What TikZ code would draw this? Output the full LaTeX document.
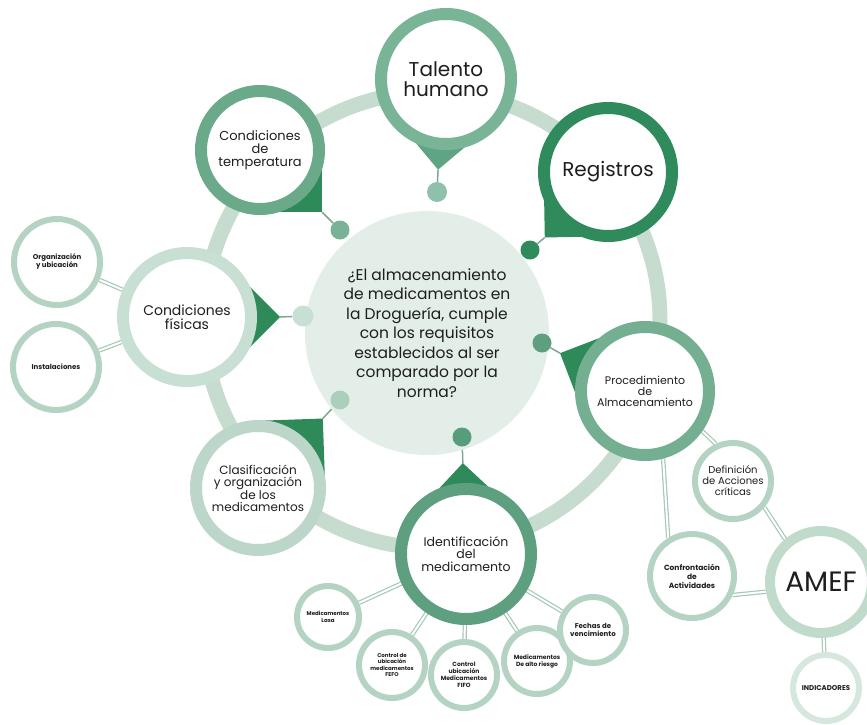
\documentclass[tikz,border=0pt]{standalone}
\usepackage{fontspec}
\setmainfont{Poppins}
\usetikzlibrary{backgrounds}

\definecolor{bigringc}{HTML}{C6DCCF}
\definecolor{qfill}{HTML}{E3EEE8}
\definecolor{talc}{HTML}{79B497}
\definecolor{talt}{HTML}{5FA584}
\definecolor{regc}{HTML}{2F8A5C}
\definecolor{tempc}{HTML}{6AA98A}
\definecolor{fisc}{HTML}{C8DFD3}
\definecolor{clasc}{HTML}{BCD7C9}
\definecolor{idec}{HTML}{5E9F80}
\definecolor{procc}{HTML}{74AF92}
\definecolor{tailc}{HTML}{2E8A58}
\definecolor{leafc}{HTML}{B4D3C3}
\definecolor{indc}{HTML}{D6E7DE}
\definecolor{amefc}{HTML}{C0DACC}
\definecolor{linkc}{HTML}{A5C9B6}
\definecolor{stemc}{HTML}{7FA794}
\definecolor{txt}{HTML}{1E1E1E}

\begin{document}
\begin{tikzpicture}[x=1pt,y=-1pt,
    bubble/.style={shape=circle,fill=white,line width=12pt,align=center,text=txt,inner sep=0pt},
    leaf/.style={shape=circle,fill=white,draw=leafc,line width=6pt,align=center,text=txt,inner sep=0pt},
    dot/.style={shape=circle,inner sep=0pt,minimum size=19pt},
    link/.style={draw=linkc,double=white,double distance=2pt,line width=1.2pt},
    stem/.style={draw=stemc,line width=1.5pt}]
        \useasboundingbox (0,0) rectangle (867,725);
        % pregunta central
        \node[shape=circle,fill=qfill,minimum size=244pt,align=center,text=txt,font=\fontsize{15.5}{19.5}\selectfont](q)at(427,333){¿El almacenamiento\\de medicamentos en\\la Droguería, cumple\\con los requisitos\\establecidos al ser\\comparado por la\\norma?};
        % burbujas
        \node[bubble,draw=talc,minimum size=130pt,font=\fontsize{20}{20}\selectfont](tal)at(446,79){Talento\\humano};
        \node[bubble,draw=regc,minimum size=128pt,font=\fontsize{20}{20}\selectfont](reg)at(608,172){Registros};
        \node[bubble,draw=tempc,minimum size=118pt,font=\fontsize{13}{13}\selectfont](temp)at(260,150){Condiciones\\de\\temperatura};
        \node[bubble,draw=fisc,minimum size=128pt,font=\fontsize{14}{14}\selectfont](fis)at(187,317){Condiciones\\físicas};
        \node[bubble,draw=clasc,minimum size=124pt,font=\fontsize{12}{12}\selectfont](clas)at(258,488){Clasificación\\y organización\\de los\\medicamentos};
        \node[bubble,draw=idec,minimum size=130pt,font=\fontsize{12.5}{12.5}\selectfont](ide)at(466,554){Identificación\\del\\medicamento};
        \node[bubble,draw=procc,minimum size=128pt,font=\fontsize{11}{11}\selectfont](proc)at(645,391){Procedimiento\\de\\Almacenamiento};
        % puntos
        \node[dot,fill=talt!70,minimum size=20pt](dtal)at(437,192){};
        \node[dot,fill=regc](dreg)at(530,250){};
        \node[dot,fill=tempc!90](dtemp)at(340,230){};
        \node[dot,fill=fisc,minimum size=21pt](dfis)at(303,316){};
        \node[dot,fill=clasc!80!tempc](dclas)at(340,400){};
        \node[dot,fill=idec!85!regc](dide)at(462,437){};
        \node[dot,fill=idec](dproc)at(542,343){};
        % hojas
        \node[leaf,minimum size=86pt,font=\bfseries\fontsize{7}{8}\selectfont](org)at(57,262){Organización\\y ubicación};
        \node[leaf,minimum size=86pt,font=\bfseries\fontsize{7}{8}\selectfont](ins)at(56,367){Instalaciones};
        \node[leaf,minimum size=62pt,font=\bfseries\fontsize{5.5}{6.5}\selectfont](lasa)at(328,617){Medicamentos\\Lasa};
        \node[leaf,minimum size=66pt,font=\bfseries\fontsize{5.5}{6.5}\selectfont](fefo)at(392,665){Control de\\ubicación\\medicamentos\\FEFO};
        \node[leaf,minimum size=66pt,font=\bfseries\fontsize{6}{7}\selectfont](fifo)at(464,675){Control\\ubicación\\Medicamentos\\FIFO};
        \node[leaf,minimum size=66pt,font=\bfseries\fontsize{6}{7}\selectfont](alto)at(537,661){Medicamentos\\De alto riesgo};
        \node[leaf,minimum size=66pt,font=\bfseries\fontsize{7}{8.5}\selectfont](fech)at(593,630){Fechas de\\vencimiento};
        \node[leaf,minimum size=76pt,font=\fontsize{10}{11}\selectfont](def)at(733,481){Definición\\de Acciones\\críticas};
        \node[leaf,minimum size=84pt,font=\bfseries\fontsize{7.5}{9}\selectfont](conf)at(692,576){Confrontación\\de\\Actividades};
        \node[leaf,draw=amefc,line width=10pt,minimum size=102pt,font=\fontsize{28}{28}\selectfont](amef)at(821,582){AMEF};
        \node[leaf,draw=indc,minimum size=66pt,font=\bfseries\fontsize{7}{8}\selectfont](ind)at(826,688){INDICADORES};
        \begin{scope}[on background layer]
            \draw[bigringc,line width=15pt](432,320)circle(228pt);
            % colas de las burbujas
            \foreach \nm/\ang/\dd/\cc in {tal/-95/91/talt,reg/-134/91/regc,temp/-45/88/tailc,fis/0/93/tailc,clas/47/95/tailc,ide/92/91/tailc,proc/156/93/tailc}{
                \pgfmathsetmacro{\rr}{\dd*0.7071}
                \fill[\cc](\nm.center)--([shift={(\ang+45:\rr pt)}]\nm.center)--([shift={(\ang:\dd pt)}]\nm.center)--([shift={(\ang-45:\rr pt)}]\nm.center)--cycle;
                \draw[stem]([shift={(\ang:\dd pt)}]\nm.center)--(d\nm);
            }
            \path (fis) edge[link] (org)
            (fis) edge[link] (ins)
            (ide) edge[link] (lasa)
            (ide) edge[link] (fefo)
            (ide) edge[link] (fifo)
            (ide) edge[link] (alto)
            (ide) edge[link] (fech)
            (proc.-35) edge[link] (def.115)
            (proc.-75) edge[link] (conf.122)
            (def.-40) edge[link] (amef.130)
            (conf.-25) edge[link] (amef.-170)
            (amef) edge[link] (ind);
        \end{scope}
    \end{tikzpicture}
\end{document}
